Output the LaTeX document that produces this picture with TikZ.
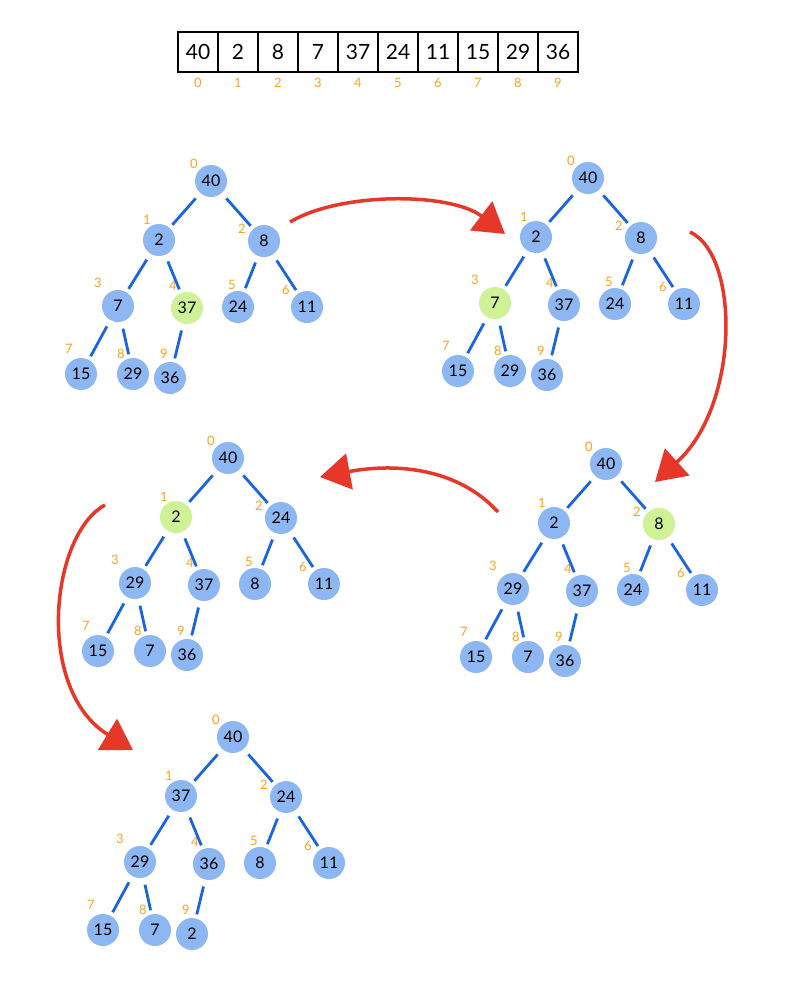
\documentclass[tikz,border=0pt]{standalone}
\usepackage{fontspec}
\setmainfont{Lato}
\usetikzlibrary{arrows.meta}
\definecolor{nodeblue}{RGB}{140,183,242}
\definecolor{nodegreen}{RGB}{208,242,150}
\definecolor{edgeblue}{RGB}{25,100,225}
\definecolor{idxorange}{RGB}{245,165,30}
\definecolor{flowred}{RGB}{230,55,40}
\tikzset{
 hnode/.style={circle, fill=nodeblue, minimum size=32pt, inner sep=0pt, font=\fontsize{16}{16}\selectfont},
 hl/.style={fill=nodegreen},
 hedge/.style={draw=edgeblue, line width=2.8pt, shorten <=7pt, shorten >=4pt},
 idx/.style={text=idxorange, font=\fontsize{13}{13}\selectfont, inner sep=0pt},
 cell/.style={draw, line width=2.8pt, minimum width=40pt, minimum height=40pt, inner sep=0pt, font=\fontsize{21}{21}\selectfont},
 flow/.style={draw=flowred, line width=3.5pt, -{Triangle[width=36pt,length=30pt]}}
}
\newcommand\heaptree[4]{%
\begin{scope}[shift={#2}]
\foreach \v [count=\i from 0] in {#3} {
  \pgfmathsetmacro\px{{0,-52,53,-93,-24,27,96,-130,-78,-41}[\i]}
  \pgfmathsetmacro\py{{0,59,60,125,127,126,126,193,193,197}[\i]}
  \pgfmathsetmacro\lx{{-17,-12,-22,-20,-14,-6,-21,-12,-12,-6}[\i]}
  \pgfmathsetmacro\ly{{-17,-20,-12,-23,-22,-22,-17,-25,-20,-24}[\i]}
  \ifnum\i=#4 \def\extra{hl}\else\def\extra{}\fi
  \node[hnode,\extra] (#1\i) at (\px,\py) {\v};
  \node[idx] (#1i\i) at (\px+\lx,\py+\ly) {\i};
}
\foreach \c/\p in {1/0,2/0,3/1,4/1,5/2,6/2,7/3,8/3,9/4} \draw[hedge] (#1\p) -- (#1\c);
\end{scope}}
\begin{document}
\begin{tikzpicture}[x=1pt,y=-1pt]
\useasboundingbox (0,0) rectangle (800,982);
\fill[white] (0,0) rectangle (800,982);
% array
\foreach \v [count=\i from 0] in {40,2,8,7,37,24,11,15,29,36} {
  \node[cell] (c\i) at (198+40*\i,52) {\v};
  \node[idx] (ci\i) at (198+40*\i,83) {\i};
}
% trees
\heaptree{a}{(211,181)}{40,2,8,7,37,24,11,15,29,36}{4}
\heaptree{b}{(588,178)}{40,2,8,7,37,24,11,15,29,36}{3}
\heaptree{d}{(228,458)}{40,2,24,29,37,8,11,15,7,36}{1}
\heaptree{c}{(606,464)}{40,2,8,29,37,24,11,15,7,36}{2}
\heaptree{e}{(233,737)}{40,37,24,29,36,8,11,15,7,2}{-1}
% arrows
\coordinate (f1s) at (290,222);
\coordinate (f1e) at (505,234);
\coordinate (f2s) at (690,232);
\coordinate (f2e) at (655,482);
\coordinate (f3s) at (498,512);
\coordinate (f3e) at (320,477);
\coordinate (f4s) at (105,505);
\coordinate (f4e) at (133,750);
\draw[flow] (f1s) .. controls (340,192) and (450,192) .. (f1e);
\draw[flow] (f2s) .. controls (740,255) and (740,405) .. (f2e);
\draw[flow] (f3s) .. controls (460,470) and (400,462) .. (f3e);
\draw[flow] (f4s) .. controls (50,535) and (35,690) .. (f4e);
\end{tikzpicture}
\end{document}
